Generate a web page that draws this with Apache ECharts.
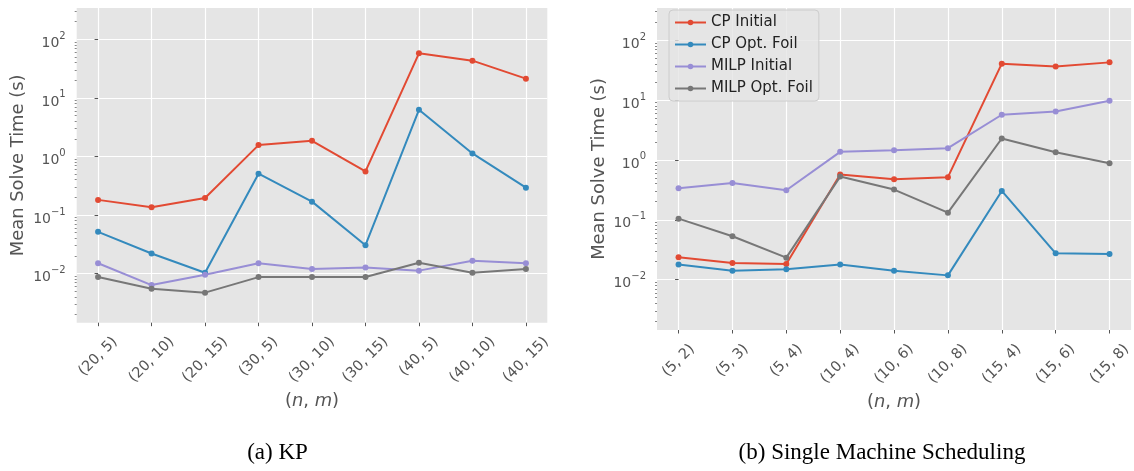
<!DOCTYPE html>
<html>
<head>
<meta charset="utf-8">
<script src="https://cdn.jsdelivr.net/npm/echarts@6/dist/echarts.min.js"></script>
<style>
  html, body { margin: 0; padding: 0; background: #ffffff; }
  #chart { width: 1134px; height: 471px; }
</style>
</head>
<body>
<div id="chart"></div>
<script>
// ---- data ----
const kpCategories = ['(20, 5)', '(20, 10)', '(20, 15)', '(30, 5)', '(30, 10)', '(30, 15)', '(40, 5)', '(40, 10)', '(40, 15)'];
const smsCategories = ['(5, 2)', '(5, 3)', '(5, 4)', '(10, 4)', '(10, 6)', '(10, 8)', '(15, 4)', '(15, 6)', '(15, 8)'];
const seriesNames = ['CP Initial', 'CP Opt. Foil', 'MILP Initial', 'MILP Opt. Foil'];

// Knapsack: mean solve time in seconds
const kpCpInitial   = [0.181, 0.135, 0.195, 1.56, 1.85, 0.555, 57.7, 43.2, 21.3];
const kpCpOptFoil   = [0.0515, 0.022, 0.0103, 0.507, 0.169, 0.0305, 6.25, 1.125, 0.293];
const kpMilpInitial = [0.0150, 0.00634, 0.00953, 0.0150, 0.0119, 0.0127, 0.0112, 0.0165, 0.0150];
const kpMilpOptFoil = [0.00869, 0.00551, 0.00471, 0.00869, 0.00869, 0.00869, 0.0153, 0.0103, 0.0119];

// Single machine scheduling: mean solve time in seconds
const smsCpInitial   = [0.0236, 0.0190, 0.0182, 0.568, 0.475, 0.514, 40.3, 36.3, 42.4];
const smsCpOptFoil   = [0.0180, 0.0141, 0.0149, 0.0180, 0.0141, 0.0118, 0.303, 0.0275, 0.0268];
const smsMilpInitial = [0.336, 0.412, 0.311, 1.36, 1.45, 1.57, 5.66, 6.43, 9.70];
const smsMilpOptFoil = [0.1045, 0.053, 0.0233, 0.526, 0.319, 0.1315, 2.27, 1.34, 0.88];

const yMajorTicks = [0.01, 0.1, 1, 10, 100];
const captions = ['(a) KP', '(b) Single Machine Scheduling'];

// ---- styling ----
const colors = ['#E24A33', '#348ABD', '#988ED5', '#777777'];
const FONT = '"DejaVu Sans", sans-serif';
const TEXT = '#555555';
const XTICK_FS = 14.5;
const YTICK_FS = 14;
const LABEL_FS = 17.9;

// minor log ticks (2..9 x 10^k)
const yMinorTicks = [];
for (let k = -3; k <= 2; k++) {
  for (let m = 2; m <= 9; m++) yMinorTicks.push(m * Math.pow(10, k));
}
const yMin = Math.pow(10, -2.84);
const yMax = Math.pow(10, 2.535);

const measureCtx = document.createElement('canvas').getContext('2d');
measureCtx.font = XTICK_FS + 'px "DejaVu Sans"';

// Rotated tick labels: centred under the tick with the top of the rotated box at a fixed gap.
function rotatedRich(cats) {
  const rich = {};
  cats.forEach((c, i) => {
    const w = measureCtx.measureText(c).width;
    const h = XTICK_FS * 1.15;
    const p = 0.5 * (w + h);
    rich['c' + i] = { fontSize: XTICK_FS, fontFamily: FONT, color: TEXT, padding: [p, p, 0, 0] };
  });
  return rich;
}

const idx = kpCategories.map((_, i) => i);

function xAxis(gridIndex, cats, nameGap) {
  return {
    type: 'value', gridIndex, min: -0.4, max: 8.4,
    axisLine: { show: false },
    axisTick: { show: true, customValues: idx, length: 3.5, lineStyle: { color: TEXT, width: 1 } },
    axisLabel: {
      customValues: idx, rotate: 45, align: 'center', verticalAlign: 'middle', margin: 11,
      fontSize: XTICK_FS, fontFamily: FONT, color: TEXT,
      formatter: v => { const i = Math.round(v); return '{c' + i + '|' + cats[i] + '}'; },
      rich: rotatedRich(cats)
    },
    splitLine: { show: true, lineStyle: { color: '#ffffff', width: 1.2 } },
    name: '{p|(}{i|n}{p|, }{i|m}{p|)}', nameLocation: 'middle', nameGap,
    nameTextStyle: {
      rich: {
        p: { fontSize: LABEL_FS, fontFamily: FONT, color: TEXT },
        i: { fontSize: LABEL_FS, fontFamily: FONT, color: TEXT, fontStyle: 'italic' }
      }
    }
  };
}

function yAxisMajor(gridIndex) {
  return {
    type: 'log', logBase: 10, gridIndex, min: yMin, max: yMax, position: 'left',
    axisLine: { show: false },
    axisTick: { show: true, customValues: yMajorTicks, length: 3.5, lineStyle: { color: TEXT, width: 1 } },
    axisLabel: {
      customValues: yMajorTicks, margin: 11,
      formatter: v => {
        const e = Math.round(Math.log10(v));
        return '{b|10}{s|' + String(e).replace('-', '\u2212') + '}';
      },
      // both tokens share the same box height; padding places base and exponent
      rich: {
        b: { fontSize: YTICK_FS, fontFamily: FONT, color: TEXT, lineHeight: 14, padding: [8, 0, 0, 0] },
        s: { fontSize: 10, fontFamily: FONT, color: TEXT, lineHeight: 10, padding: [3, 0, 9, 0] }
      }
    },
    splitLine: { show: true, lineStyle: { color: '#ffffff', width: 1.2 } },
    name: 'Mean Solve Time (s)', nameLocation: 'middle', nameGap: 49,
    nameTextStyle: { fontSize: LABEL_FS, fontFamily: FONT, color: TEXT }
  };
}

function yAxisMinor(gridIndex) {
  return {
    type: 'log', logBase: 10, gridIndex, min: yMin, max: yMax, position: 'left', offset: 0,
    axisLine: { show: false },
    axisTick: { show: true, customValues: yMinorTicks, length: 2, lineStyle: { color: TEXT, width: 0.7 } },
    axisLabel: { show: false },
    splitLine: { show: false }
  };
}

function lineSeries(name, values, color, gridIndex) {
  return {
    type: 'line', name,
    xAxisIndex: gridIndex, yAxisIndex: gridIndex,
    data: values.map((v, i) => [i, v]),
    symbol: 'circle', symbolSize: 6, showSymbol: true,
    lineStyle: { width: 2, color },
    itemStyle: { color },
    emphasis: { disabled: true },
    z: 3
  };
}

const kpSeries = [kpCpInitial, kpCpOptFoil, kpMilpInitial, kpMilpOptFoil];
const smsSeries = [smsCpInitial, smsCpOptFoil, smsMilpInitial, smsMilpOptFoil];

const series = [];
seriesNames.forEach((n, k) => series.push(lineSeries(n, kpSeries[k], colors[k], 0)));
seriesNames.forEach((n, k) => series.push(lineSeries(n, smsSeries[k], colors[k], 1)));

const chart = echarts.init(document.getElementById('chart'), null, { renderer: 'canvas' });
chart.setOption({
  animation: false,
  backgroundColor: '#ffffff',
  grid: [
    { left: 76.7, top: 8, width: 470.6, height: 314.7, show: true, backgroundColor: '#E5E5E5', borderWidth: 0 },
    { left: 657, top: 8, width: 476, height: 322, show: true, backgroundColor: '#E5E5E5', borderWidth: 0 }
  ],
  xAxis: [xAxis(0, kpCategories, 67), xAxis(1, smsCategories, 59)],
  yAxis: [yAxisMajor(0), yAxisMajor(1), yAxisMinor(0), yAxisMinor(1)],
  legend: {
    data: seriesNames, orient: 'vertical', left: 669, top: 10,
    itemWidth: 31, itemHeight: 7, itemGap: 7,
    padding: [5, 6, 5, 5],
    backgroundColor: 'rgba(229,229,229,0.8)', borderColor: '#cccccc', borderWidth: 1, borderRadius: 4,
    textStyle: { fontSize: 15, fontFamily: FONT, color: '#222222' },
    selectedMode: false
  },
  graphic: [
    { type: 'text', x: 277.5, y: 453, style: { text: captions[0], align: 'center', verticalAlign: 'middle', fontSize: 23, fontFamily: '"Liberation Serif", serif', fill: '#000' } },
    { type: 'text', x: 882, y: 453, style: { text: captions[1], align: 'center', verticalAlign: 'middle', fontSize: 23, fontFamily: '"Liberation Serif", serif', fill: '#000' } }
  ],
  series
});
</script>
</body>
</html>
